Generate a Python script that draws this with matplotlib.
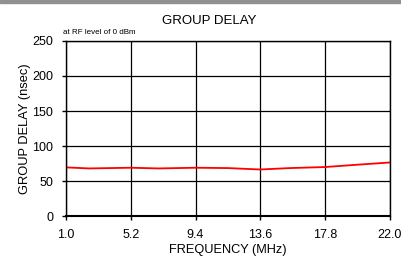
import numpy as np
import matplotlib.pyplot as plt

plt.rcParams['font.family'] = ['Liberation Sans', 'DejaVu Sans']

# group delay vs frequency
freq = [1.0, 2.5, 5.2, 7.0, 9.4, 11.5, 13.6, 15.5, 17.8, 20.0, 22.0]
delay = [69.5, 68.0, 69.0, 68.0, 69.0, 68.5, 66.5, 68.5, 70.0, 73.5, 76.5]
xticks = [1.0, 5.2, 9.4, 13.6, 17.8, 22.0]
yticks = [0, 50, 100, 150, 200, 250]

fig = plt.figure(figsize=(4.02, 2.56), dpi=100)
ax = fig.add_axes([0.164, 0.156, 0.806, 0.684])

ax.plot(freq, delay, color='#ff0000', lw=1.3)
ax.set_xlim(1.0, 22.0)
ax.set_ylim(0, 250)
ax.set_xticks(xticks)
ax.set_xticklabels(['%.1f' % v for v in xticks])
ax.set_yticks(yticks)
ax.grid(True, color='black', lw=0.9)
for s in ax.spines.values():
    s.set_linewidth(1.0)
ax.spines['bottom'].set_linewidth(1.5)
ax.tick_params(labelsize=9, length=3, width=1, direction='out')
ax.tick_params(axis='x', pad=6.5)
ax.tick_params(axis='y', pad=6)

fig.text(209 / 402, 1 - 21 / 256, 'GROUP DELAY', fontsize=9.5,
         ha='center', va='center')
fig.text(228 / 402, 0.5 / 256, 'FREQUENCY (MHz)', fontsize=9.2,
         ha='center', va='bottom')
ax.set_ylabel('GROUP DELAY (nsec)', fontsize=9.3, labelpad=1)
fig.text(63 / 402, 1 - 33 / 256, 'at RF level of 0 dBm', fontsize=5.8,
         ha='left', va='center')

# grey band at the top edge
fig.patches.append(plt.Rectangle((0, 0.99), 1, 0.01, transform=fig.transFigure,
                                 color='#909090', zorder=0))

fig.savefig('out.png', dpi=100)
